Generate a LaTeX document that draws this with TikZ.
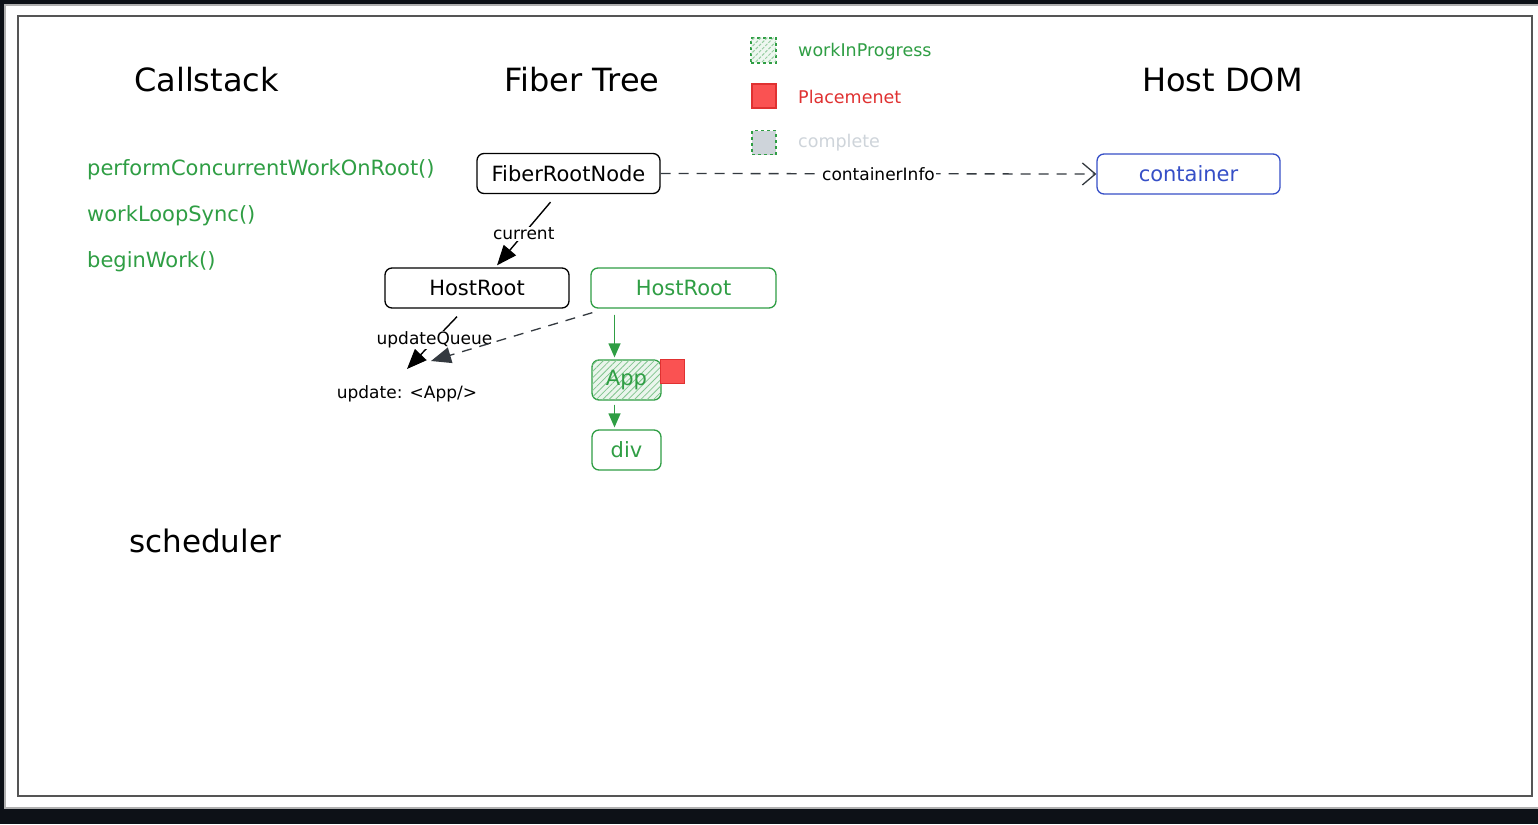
\documentclass[tikz,border=0pt]{standalone}
\usepackage{fontspec}
\setmainfont{DejaVu Sans}
\usetikzlibrary{arrows.meta,patterns.meta}
\definecolor{bgdark}{RGB}{13,17,23}
\definecolor{framegray}{RGB}{85,85,85}
\definecolor{edgegray}{RGB}{176,176,176}
\definecolor{exgreen}{RGB}{47,158,68}
\definecolor{exred}{RGB}{224,49,49}
\definecolor{exredfill}{RGB}{250,82,82}
\definecolor{exblue}{RGB}{54,79,199}
\definecolor{exgray}{RGB}{206,212,218}
\definecolor{exdark}{RGB}{52,58,64}
\begin{document}
\begin{tikzpicture}[x=1pt,y=-1pt,
  titletext/.style={font=\fontsize{32}{38}\selectfont, text=black, inner sep=0pt},
  calltext/.style={font=\fontsize{21}{25}\selectfont, text=exgreen, anchor=west, inner sep=0pt},
  legtext/.style={font=\fontsize{17.5}{21}\selectfont, anchor=west, inner sep=0pt},
  smalltext/.style={font=\fontsize{17}{20}\selectfont, text=black, inner sep=1pt},
  fbox/.style={draw=black, rounded corners=7pt, line width=1.3pt, inner sep=0pt,
    minimum height=40pt, font=\fontsize{21}{25}\selectfont},
  gbox/.style={fbox, draw=exgreen, text=exgreen},
  hatch/.style={postaction={pattern={Lines[angle=45,distance=4.5pt,line width=0.8pt]}, pattern color=exgreen!60}},
  tri/.style={-{Triangle[length=20pt,width=16pt]}, line width=1.4pt},
  garrow/.style={-{Triangle[length=14pt,width=12pt]}, line width=1.3pt, draw=exgreen, fill=exgreen},
  lbl/.style={fill=white, inner sep=1pt, font=\fontsize{17}{20}\selectfont}
]
\useasboundingbox (0,0) rectangle (1538,824);
% background and frame
\fill[bgdark] (0,0) rectangle (1538,824);
\fill[white, draw=edgegray, line width=1.5pt] (5,5) rectangle (1542,808);
\draw[framegray, line width=1.4pt] (18,16) rectangle (1532,796);

% titles
\node[titletext] (tcall) at (206.5,80) {Callstack};
\node[titletext] (tfiber) at (582,80) {Fiber Tree};
\node[titletext] (thost) at (1222.5,80) {Host DOM};
\node[titletext, font=\fontsize{31}{36}\selectfont] (tsched) at (205,541) {scheduler};

% callstack
\node[calltext] (cs1) at (87,170) {performConcurrentWorkOnRoot()};
\node[calltext] (cs2) at (87,216) {workLoopSync()};
\node[calltext] (cs3) at (87,262) {beginWork()};

% legend
\node[draw=exgreen, dashed, line width=1.3pt, minimum size=25pt, inner sep=0pt, fill=exgreen!8,
  postaction={pattern={Lines[angle=45,distance=4.5pt,line width=1pt]}, pattern color=exgreen!50}] (lg1) at (763.5,50.5) {};
\node[legtext, text=exgreen] (lt1) at (798,52) {workInProgress};
\node[draw=exred, fill=exredfill, line width=1.2pt, minimum size=24pt, inner sep=0pt] (lg2) at (764,96) {};
\node[legtext, text=exred] (lt2) at (798,97) {Placemenet};
\node[draw=exgreen, dashed, fill=exgray, line width=1.2pt, minimum size=24pt, inner sep=0pt] (lg3) at (764,142.5) {};
\node[legtext, text=exgray] (lt3) at (798,143) {complete};

% fiber tree nodes
\node[fbox, minimum width=183pt] (frn) at (568.5,173.5) {FiberRootNode};
\node[fbox, draw=exblue, text=exblue, minimum width=183pt] (cont) at (1188.5,174) {container};
\node[fbox, minimum width=184pt] (hr1) at (477,288) {HostRoot};
\node[gbox, minimum width=185pt] (hr2) at (683.5,288) {HostRoot};
\node[gbox, minimum width=69pt, fill=exgreen!10, hatch] (app) at (626.5,380) {App};
\node[gbox, minimum width=69pt] (div) at (626.5,450) {div};
\node[draw=exred, fill=exredfill, line width=1pt, minimum size=24pt, inner sep=0pt] (place) at (672,371) {};
\node[smalltext] (upd) at (407,394) {update: <App/>};

% connectors
\draw[draw=exdark, line width=1.3pt, dash pattern=on 10pt off 8pt,
  -{Straight Barb[length=13pt,width=22pt,line width=1.3pt]}]
  (frn.east) -- (cont.west) node[lbl, midway] {containerInfo};

\draw[tri] ([xshift=-18pt,yshift=-8pt]frn.south) -- ([xshift=20pt,yshift=2pt]hr1.north)
  node[lbl, midway] {current};

\coordinate (uq1) at (407,369);
\coordinate (uq2) at (431,361);
\draw[tri] ([xshift=-20pt,yshift=-8pt]hr1.south) -- (uq1)
  node[lbl, pos=0.45] {updateQueue};
\draw[exdark, line width=1.3pt, dash pattern=on 10pt off 8pt, -{Triangle[length=20pt,width=16pt,fill=exdark]}]
  ([xshift=2pt,yshift=-4pt]hr2.south west) -- (uq2);

\coordinate (appin) at ([xshift=-12pt,yshift=2pt]app.north);
\draw[garrow] ([yshift=-6pt]hr2.south -| appin) -- (appin);
\draw[garrow] ([xshift=-12pt,yshift=-4pt]app.south) -- ([xshift=-12pt,yshift=2pt]div.north);
\end{tikzpicture}
\end{document}
